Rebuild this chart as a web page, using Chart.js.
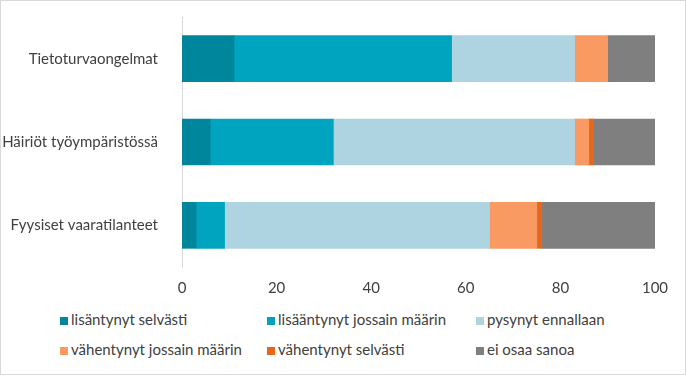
<!DOCTYPE html>
<html>
<head>
<meta charset="utf-8">
<script src="https://cdn.jsdelivr.net/npm/chart.js@4.4.0/dist/chart.umd.min.js"></script>
<style>
  html, body { margin: 0; padding: 0; background: #fff; }
  #wrap { position: relative; width: 684px; height: 373px; border: 1px solid #d9d9d9; overflow: hidden; }
  #chart { position: absolute; left: -1px; top: -1px; }
  #legend { position: absolute; left: 0; top: 309px; width: 686px; font-family: Lato, "Liberation Sans", sans-serif; font-size: 15px; color: #404040; }
  .item { position: absolute; white-space: nowrap; }
  .box { display: inline-block; width: 8px; height: 8px; margin-right: 3px; vertical-align: 0px; }
</style>
</head>
<body>
<div id="wrap">
  <canvas id="chart" width="686" height="300"></canvas>
  <div id="legend"></div>
</div>
<script>
const categories = ['Tietoturvaongelmat', 'Häiriöt työympäristössä', 'Fyysiset vaaratilanteet'];
const seriesNames = ['lisäntynyt selvästi', 'lisääntynyt jossain määrin', 'pysynyt ennallaan',
                     'vähentynyt jossain määrin', 'vähentynyt selvästi', 'ei osaa sanoa'];
const lisantynytSelvasti = [11, 6, 3];
const lisantynytJossain = [46, 26, 6];
const pysynyt = [26, 51, 56];
const vahentynytJossain = [7, 3, 10];
const vahentynytSelvasti = [0, 1, 1];
const eiOsaa = [10, 13, 24];
const xTicks = [0, 20, 40, 60, 80, 100];

const colors = ['#00869c', '#00a4bf', '#aed4e2', '#f89a62', '#e8661c', '#7f7f7f'];
const values = [lisantynytSelvasti, lisantynytJossain, pysynyt, vahentynytJossain, vahentynytSelvasti, eiOsaa];

const datasets = values.map((v, i) => ({
  label: seriesNames[i],
  data: v,
  backgroundColor: colors[i],
  borderWidth: 0,
  barThickness: 46
}));

const font = { family: 'Lato, "Liberation Sans", sans-serif', size: 15 };

const chart = new Chart(document.getElementById('chart'), {
  type: 'bar',
  data: { labels: categories, datasets: datasets },
  options: {
    indexAxis: 'y',
    responsive: false,
    animation: false,
    layout: { padding: { top: 17, right: 31, left: 0, bottom: 0 } },
    plugins: { legend: { display: false }, tooltip: { enabled: false } },
    scales: {
      x: {
        stacked: true,
        min: 0, max: 100,
        afterBuildTicks: s => { s.ticks = xTicks.map(v => ({ value: v })); },
        afterFit: s => { s.height = 33; s.paddingLeft = 0; s.paddingRight = 0; },
        grid: { display: false },
        border: { display: false },
        ticks: { color: '#404040', font: font, padding: 4 }
      },
      y: {
        stacked: true,
        afterFit: s => { s.width = 182; s.paddingTop = 0; s.paddingBottom = 0; },
        grid: { display: false },
        border: { display: true, color: '#d9d9d9', width: 1 },
        ticks: { color: '#404040', font: font, padding: 16 }
      }
    }
  }
});

// legend laid out in three columns like the original
const legend = document.getElementById('legend');
const colX = [59, 266, 475];
seriesNames.forEach((name, i) => {
  const el = document.createElement('div');
  el.className = 'item';
  el.style.left = colX[i % 3] + 'px';
  el.style.top = (Math.floor(i / 3) * 30) + 'px';
  el.innerHTML = '<span class="box" style="background:' + colors[i] + '"></span>' + name;
  legend.appendChild(el);
});
</script>
</body>
</html>
